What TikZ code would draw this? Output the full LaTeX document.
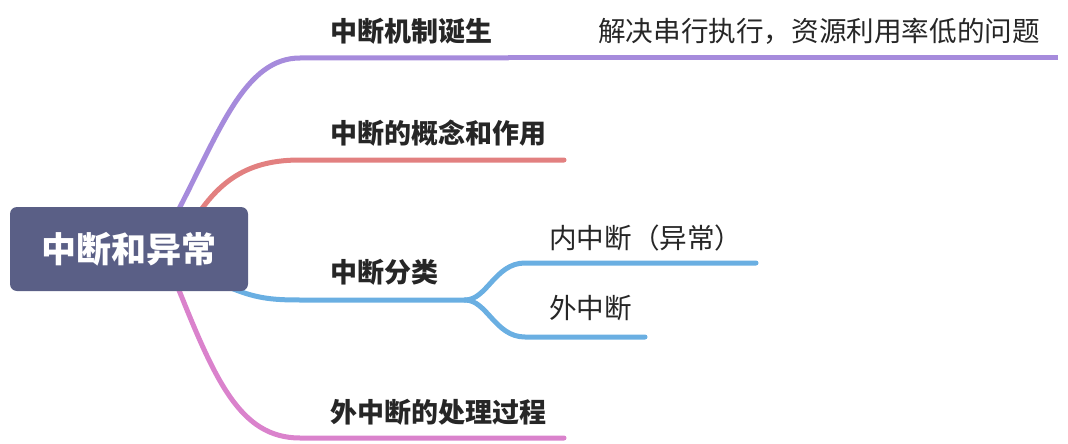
\documentclass[tikz,border=0pt]{standalone}
\usepackage{fontspec}
\newfontfamily\cjk{Noto Sans CJK SC}
\usetikzlibrary{positioning,backgrounds}

\definecolor{rootblue}{HTML}{5A5F86}
\definecolor{birthpurple}{HTML}{A68BDC}
\definecolor{conceptred}{HTML}{E28080}
\definecolor{classblue}{HTML}{6AAFE2}
\definecolor{handlepink}{HTML}{DA82CC}
\definecolor{inktext}{HTML}{262626}

\begin{document}
\begin{tikzpicture}[
      x=1pt, y=-1pt,
      branch/.style ={line width=5pt, line cap=round, color=#1},
      branch/.default=classblue,
      root topic/.style ={draw=none, fill=rootblue, rounded corners=7pt,
        minimum width=238pt, minimum height=84pt, inner sep=0pt,
        text=white, font=\cjk\bfseries\fontsize{35}{40}\selectfont},
      main topic/.style ={anchor=base west, inner sep=0pt, text=inktext,
        font=\cjk\bfseries\fontsize{27}{32}\selectfont},
      sub topic/.style ={anchor=base west, inner sep=0pt, text=inktext,
        font=\cjk\fontsize{27.6}{32}\selectfont}]
    \useasboundingbox (0,0) rectangle (1068,444);
    % the root
    \node[root topic] (root) at (129,249) {中断和异常};
    % labels
    \node[main topic] (birth) at (330,42) {中断机制诞生};
    \node[sub topic] (reason) at (598,42) {解决串行执行，资源利用率低的问题};
    \node[main topic] (concept) at (330,143) {中断的概念和作用};
    \node[main topic] (classes) at (330,282) {中断分类};
    \node[sub topic] (inner) at (549,248) {内中断（异常）};
    \node[sub topic] (outer) at (549,318) {外中断};
    \node[main topic] (handling) at (330,422) {外中断的处理过程};
    % points on the lines
    \coordinate (birth start) at (300,58);
    \coordinate (birth end) at (508,58);
    \coordinate (reason end) at (1058,58);
    \coordinate (concept start) at (300,160);
    \coordinate (concept end) at (564,160);
    \coordinate (classes start) at (300,300);
    \coordinate (fork) at (465,300);
    \coordinate (inner start) at (525,263);
    \coordinate (inner end) at (756,263);
    \coordinate (outer start) at (525,337);
    \coordinate (outer end) at (645,337);
    \coordinate (handling start) at (300,438);
    \coordinate (handling end) at (564,438);
    % branches, behind the root
    \begin{pgfonlayer}{background}
    \draw[branch=birthpurple] ([xshift=48pt,yshift=-6pt]root.north) .. controls (220,130) and (245,58) .. (birth start) -- (birth end);
    \draw[branch=birthpurple, line cap=butt] (birth end) -- (reason end);
    \draw[branch=conceptred] ([xshift=70pt,yshift=-6pt]root.north) .. controls (225,175) and (255,160) .. (concept start) -- (concept end);
    \draw[branch] ([xshift=100pt,yshift=4pt]root.south) .. controls (255,298) and (270,300) .. (classes start) -- (fork);
    \draw[branch] (fork) .. controls (487,300) and (495,263) .. (inner start) -- (inner end);
    \draw[branch] (fork) .. controls (487,300) and (495,337) .. (outer start) -- (outer end);
    \draw[branch=handlepink] ([xshift=48pt,yshift=6pt]root.south) .. controls (215,380) and (240,438) .. (handling start) -- (handling end);
    \end{pgfonlayer}
\end{tikzpicture}
\end{document}
